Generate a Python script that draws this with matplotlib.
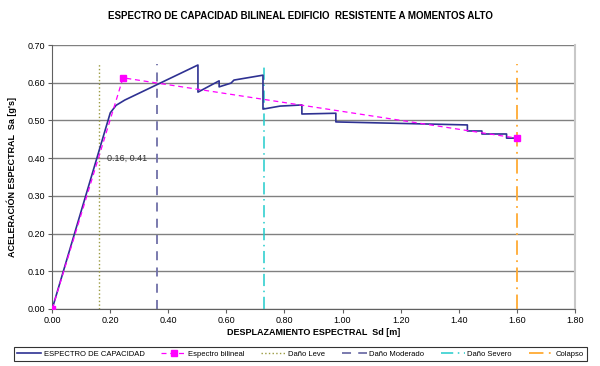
import matplotlib.pyplot as plt

plt.rcParams['font.family'] = ['Liberation Sans', 'DejaVu Sans']

# capacity curve
sd_cap = [0.0, 0.20, 0.22, 0.25, 0.502, 0.502, 0.575, 0.575, 0.616, 0.626, 0.726, 0.726,
          0.785, 0.86, 0.86, 0.977, 0.977, 1.43, 1.43, 1.48, 1.48, 1.565, 1.565, 1.60]
sa_cap = [0.0, 0.52, 0.54, 0.554, 0.647, 0.575, 0.605, 0.589, 0.599, 0.607, 0.620, 0.530,
          0.538, 0.541, 0.517, 0.519, 0.496, 0.488, 0.472, 0.472, 0.464, 0.464, 0.453, 0.453]

# bilinear spectrum
sd_bil = [0.0, 0.244, 1.60]
sa_bil = [0.0, 0.613, 0.453]

# damage thresholds
leve = 0.16
moderado = 0.36
severo = 0.73
colapso = 1.60
line_top = 0.65

fig = plt.figure(figsize=(6, 3.66), dpi=100)
ax = fig.add_axes([0.087, 0.156, 0.871, 0.721])

ax.plot(sd_cap, sa_cap, color='#2e3192', lw=1.2, label='ESPECTRO DE CAPACIDAD', zorder=4)
ax.plot(sd_bil, sa_bil, color='#ff00ff', lw=0.9, ls=(0, (4, 3)), marker='s', ms=4,
        label='Espectro bilineal', zorder=5)
ax.plot([leve, leve], [0, line_top], color='#9a9a40', lw=1, ls=':', label='Daño Leve')
ax.plot([moderado, moderado], [0, line_top], color='#7070a8', lw=1.3, ls=(0, (5, 4)),
        label='Daño Moderado')
ax.plot([severo, severo], [0, line_top], color='#22cccc', lw=1.1, ls=(0, (8, 3, 1, 3)),
        label='Daño Severo')
ax.plot([colapso, colapso], [0, line_top], color='#ffaa33', lw=1.3, ls=(0, (8, 3, 1, 3)),
        label='Colapso')

ax.annotate('0.16, 0.41', xy=(0.16, 0.41), xytext=(0.19, 0.40), fontsize=6.5,
            color='#333333', va='center')

ax.set_xlim(0, 1.8)
ax.set_ylim(0, 0.7)
ax.set_xticks([i * 0.2 for i in range(10)])
ax.set_yticks([i * 0.1 for i in range(8)])
ax.set_xticklabels([f'{i * 0.2:.2f}' for i in range(10)], fontsize=6.5)
ax.set_yticklabels([f'{i * 0.1:.2f}' for i in range(8)], fontsize=6.5)
ax.yaxis.grid(True, color='#808080', lw=1)
ax.set_axisbelow(True)
ax.spines['top'].set_visible(False)
ax.spines['right'].set_color('#c8c8c8')
ax.spines['right'].set_linewidth(1.5)
ax.spines['left'].set_color('#606060')
ax.spines['bottom'].set_color('#606060')
ax.tick_params(length=3, width=0.8, color='#606060', pad=2)

ax.set_xlabel('DESPLAZAMIENTO ESPECTRAL  Sd [m]', fontsize=6.5, fontweight='bold', labelpad=2)
ax.set_ylabel('ACELERACIÓN ESPECTRAL  Sa [g\'s]', fontsize=6.5, fontweight='bold', labelpad=8)
fig.text(0.5, 0.955, 'ESPECTRO DE CAPACIDAD BILINEAL EDIFICIO  RESISTENTE A MOMENTOS ALTO',
         ha='center', va='center', fontsize=7, fontweight='bold')

leg = fig.legend(loc='center', bbox_to_anchor=(0.023, 0.013, 0.955, 0.04), mode='expand',
                 ncol=6, fontsize=5.5, frameon=True, fancybox=False, edgecolor='black',
                 handlelength=3.2, borderpad=0.4, handletextpad=0.3, borderaxespad=0)
leg.get_frame().set_linewidth(0.8)

fig.savefig('out.png', dpi=100)
